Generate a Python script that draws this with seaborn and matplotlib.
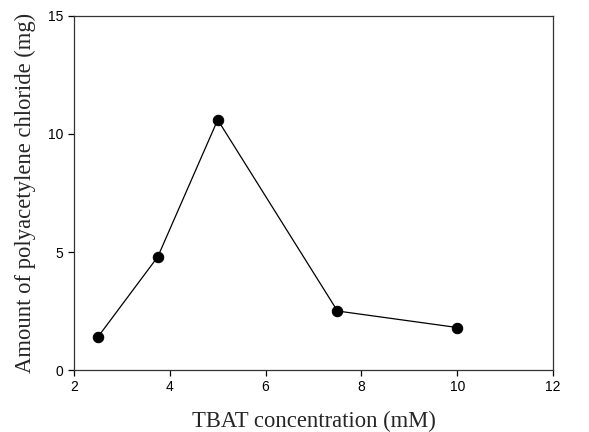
import pandas as pd
import matplotlib
matplotlib.use('Agg')
import matplotlib.pyplot as plt
import seaborn as sns

# Data
tbat_conc = [2.5, 3.75, 5.0, 7.5, 10.0]
pac_amount = [1.4, 4.8, 10.6, 2.5, 1.8]
x_ticks = [2, 4, 6, 8, 10, 12]
y_ticks = [0, 5, 10, 15]

df = pd.DataFrame({'TBAT': tbat_conc, 'PAC': pac_amount})

sns.set_style('ticks')
plt.rcParams['font.family'] = ['Liberation Sans', 'DejaVu Sans']

fig = plt.figure(figsize=(5.89, 4.32), dpi=100)
ax = fig.add_axes([0.1256, 0.1435, 0.8134, 0.8195])

sns.lineplot(x='TBAT', y='PAC', data=df, ax=ax, color='black', linewidth=0.9,
             marker='o', markersize=7.5, markeredgecolor='black', markerfacecolor='black')

ax.set_xlim(2, 12)
ax.set_ylim(0, 15)
ax.set_xticks(x_ticks)
ax.set_yticks(y_ticks)
ax.tick_params(direction='out', length=4, width=0.9, labelsize=10, colors='black')
for s in ax.spines.values():
    s.set_visible(True)
    s.set_color('#333333')
    s.set_linewidth(0.9)

serif = ['Liberation Serif', 'DejaVu Serif']
ax.set_xlabel('TBAT concentration (mM)', family=serif, fontsize=16.3, labelpad=12)
ax.set_ylabel('Amount of polyacetylene chloride (mg)', family=serif, fontsize=16.3, labelpad=9)

fig.savefig('out.png', dpi=100)
